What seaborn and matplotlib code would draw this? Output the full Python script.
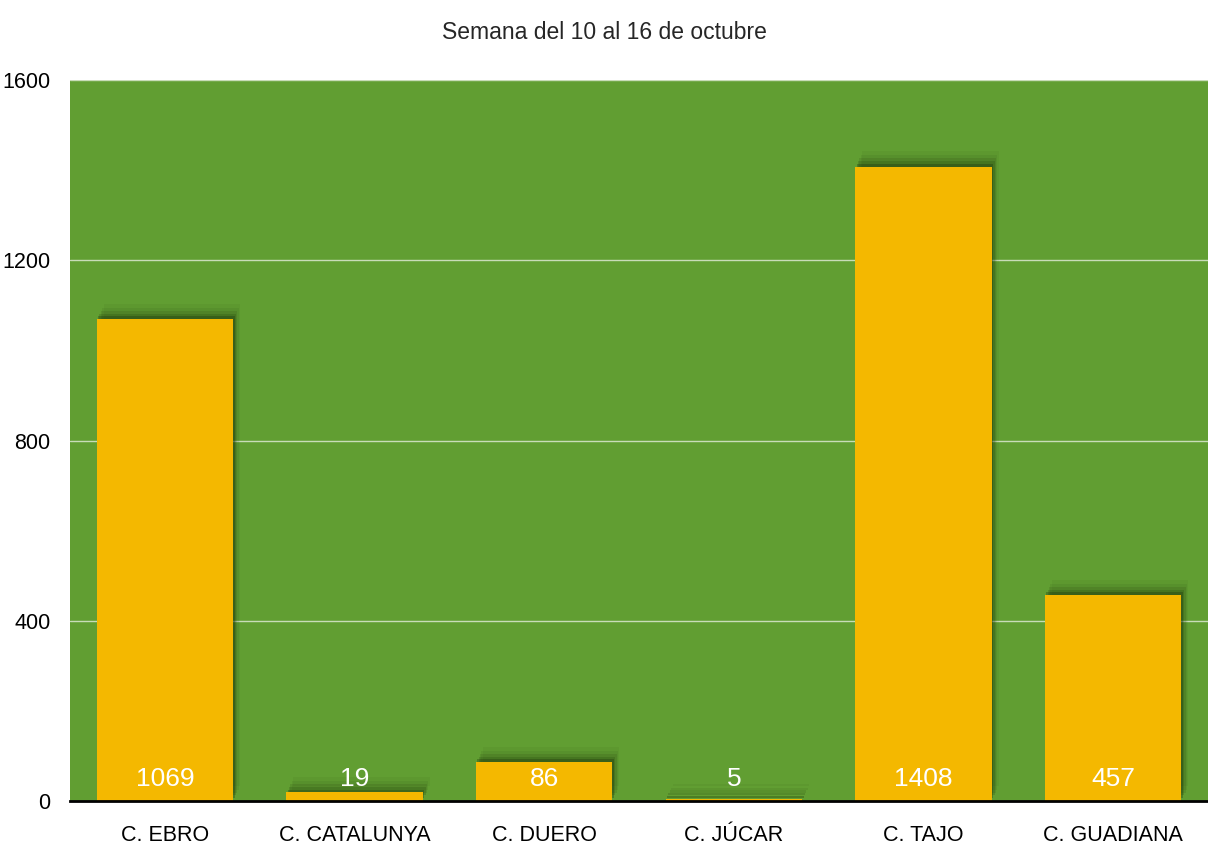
import pandas as pd
import matplotlib.pyplot as plt
import matplotlib.patheffects as pe
import seaborn as sns

cuencas = ['C. EBRO', 'C. CATALUNYA', 'C. DUERO', 'C. JÚCAR', 'C. TAJO', 'C. GUADIANA']
valores = [1069, 19, 86, 5, 1408, 457]
ticks_y = [0, 400, 800, 1200, 1600]
titulo = 'Semana del 10 al 16 de octubre'

verde = '#619e32'
amarillo = '#f4b800'

def draw_bar_plot():
    sns.set_style('white')
    plt.rcParams['font.family'] = ['Liberation Sans', 'DejaVu Sans']
    df = pd.DataFrame({'cuenca': cuencas, 'valor': valores})

    fig = plt.figure(figsize=(12.08, 8.49), dpi=100)
    ax = fig.add_axes([0.058, 0.0565, 0.942, 0.8493])
    ax.set_facecolor(verde)

    sns.barplot(x='cuenca', y='valor', data=df, ax=ax, color=amarillo,
                width=0.72, saturation=1, edgecolor='none', linewidth=0, zorder=3)

    # sombra difusa sobre las barras
    sombras = []
    for dx, dy, a in [(1, 2, 0.30), (2, 4, 0.18), (3, 6, 0.12), (4, 8, 0.08), (5, 11, 0.05)]:
        sombras.append(pe.SimplePatchShadow(offset=(dx, dy), shadow_rgbFace='#1a3308', alpha=a))
    for p in ax.patches:
        p.set_path_effects(sombras + [pe.Normal()])

    for i, v in enumerate(valores):
        ax.text(i, 22, str(v), ha='center', va='bottom', color='white',
                fontsize=19, zorder=5)

    ax.set_ylim(0, 1600)
    ax.set_yticks(ticks_y)
    ax.yaxis.grid(True, color='#c8dcb8', linewidth=1, zorder=0)
    ax.set_axisbelow(True)
    ax.set_xlim(-0.5, len(cuencas) - 0.5)

    for s in ['top', 'right', 'left']:
        ax.spines[s].set_visible(False)
    ax.spines['bottom'].set_color('black')
    ax.spines['bottom'].set_linewidth(2)
    ax.spines['bottom'].set_zorder(6)

    ax.tick_params(axis='both', length=0, labelsize=15.5, labelcolor='black')
    ax.tick_params(axis='y', pad=14)
    ax.tick_params(axis='x', pad=17)
    ax.set_xlabel('')
    ax.set_ylabel('')
    fig.suptitle(titulo, fontsize=16.5, y=0.975)
    fig.savefig('out.png')

def main():
    draw_bar_plot()

if __name__ == "__main__":
    main()
